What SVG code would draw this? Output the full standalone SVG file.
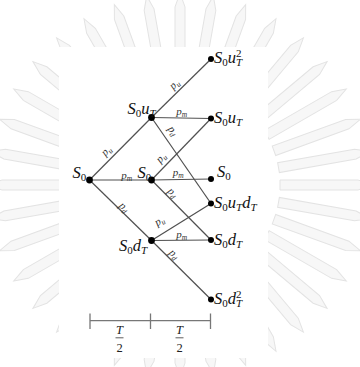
<svg xmlns="http://www.w3.org/2000/svg" xmlns:xlink="http://www.w3.org/1999/xlink" width="360" height="367" viewBox="0 0 360 367">
<defs>
<style>
.lbl{font-family:"Liberation Serif","DejaVu Serif",serif;font-size:16.5px;fill:#111}
.it{font-style:italic}
.sub{font-size:11px}
.p{font-family:"Liberation Serif","DejaVu Serif",serif;font-size:11px;font-style:italic;fill:#333}
.ps{font-size:7.5px}
.edge{stroke:#505050;stroke-width:1.2;fill:none}
.dot{fill:#000}
.bar{stroke:#777;stroke-width:1.3;fill:none}
.frac{font-family:"Liberation Serif","DejaVu Serif",serif;font-size:12.5px;fill:#222}
.ray{fill:#f7f7f7;stroke:#e3e3e3;stroke-width:1}
</style>
<polygon id="ray" points="-5,-100 5,-100 5,-178 0,-192 -5,-178"/>
</defs>
<rect width="360" height="367" fill="#fff"/>
<g id="watermark" class="ray" transform="translate(180,185)">
<use xlink:href="#ray" transform="rotate(0)"/><use xlink:href="#ray" transform="rotate(10)"/><use xlink:href="#ray" transform="rotate(20)"/><use xlink:href="#ray" transform="rotate(30)"/><use xlink:href="#ray" transform="rotate(40)"/><use xlink:href="#ray" transform="rotate(50)"/><use xlink:href="#ray" transform="rotate(60)"/><use xlink:href="#ray" transform="rotate(70)"/><use xlink:href="#ray" transform="rotate(80)"/><use xlink:href="#ray" transform="rotate(90)"/><use xlink:href="#ray" transform="rotate(100)"/><use xlink:href="#ray" transform="rotate(110)"/><use xlink:href="#ray" transform="rotate(120)"/><use xlink:href="#ray" transform="rotate(130)"/><use xlink:href="#ray" transform="rotate(140)"/><use xlink:href="#ray" transform="rotate(150)"/><use xlink:href="#ray" transform="rotate(160)"/><use xlink:href="#ray" transform="rotate(170)"/><use xlink:href="#ray" transform="rotate(180)"/><use xlink:href="#ray" transform="rotate(190)"/><use xlink:href="#ray" transform="rotate(200)"/><use xlink:href="#ray" transform="rotate(210)"/><use xlink:href="#ray" transform="rotate(220)"/><use xlink:href="#ray" transform="rotate(230)"/><use xlink:href="#ray" transform="rotate(240)"/><use xlink:href="#ray" transform="rotate(250)"/><use xlink:href="#ray" transform="rotate(260)"/><use xlink:href="#ray" transform="rotate(270)"/><use xlink:href="#ray" transform="rotate(280)"/><use xlink:href="#ray" transform="rotate(290)"/><use xlink:href="#ray" transform="rotate(300)"/><use xlink:href="#ray" transform="rotate(310)"/><use xlink:href="#ray" transform="rotate(320)"/><use xlink:href="#ray" transform="rotate(330)"/><use xlink:href="#ray" transform="rotate(340)"/><use xlink:href="#ray" transform="rotate(350)"/>
</g>
<rect x="59" y="47" width="209" height="311" fill="#fff"/>

<g id="connectors">
<line class="edge" x1="89.5" y1="180" x2="151.5" y2="117.5"/>
<line class="edge" x1="89.5" y1="180" x2="151.5" y2="180"/>
<line class="edge" x1="89.5" y1="180" x2="151.5" y2="240.5"/>
<line class="edge" x1="151.5" y1="117.5" x2="211" y2="59"/>
<line class="edge" x1="151.5" y1="117.5" x2="211" y2="118.5"/>
<line class="edge" x1="151.5" y1="117.5" x2="211" y2="203.5"/>
<line class="edge" x1="151.5" y1="180" x2="211" y2="118.5"/>
<line class="edge" x1="151.5" y1="180" x2="211" y2="179"/>
<line class="edge" x1="151.5" y1="180" x2="211" y2="240"/>
<line class="edge" x1="151.5" y1="240.5" x2="211" y2="203.5"/>
<line class="edge" x1="151.5" y1="240.5" x2="211" y2="240"/>
<line class="edge" x1="151.5" y1="240.5" x2="211" y2="299.5"/>
<text class="p" transform="translate(106.5,151) rotate(-45)" x="0" y="3" text-anchor="middle">p<tspan class="ps" dy="2">u</tspan></text>
<text class="p" transform="translate(126.7,175.5)" x="0" y="3" text-anchor="middle">p<tspan class="ps" dy="2">m</tspan></text>
<text class="p" transform="translate(124,207.5) rotate(45)" x="0" y="3" text-anchor="middle">p<tspan class="ps" dy="2">d</tspan></text>
<text class="p" transform="translate(174.5,84.5) rotate(-44.5)" x="0" y="3" text-anchor="middle">p<tspan class="ps" dy="2">u</tspan></text>
<text class="p" transform="translate(181.7,111.5)" x="0" y="3" text-anchor="middle">p<tspan class="ps" dy="2">m</tspan></text>
<text class="p" transform="translate(172.5,131) rotate(55.3)" x="0" y="3" text-anchor="middle">p<tspan class="ps" dy="2">d</tspan></text>
<text class="p" transform="translate(161.2,158) rotate(-46)" x="0" y="3" text-anchor="middle">p<tspan class="ps" dy="2">u</tspan></text>
<text class="p" transform="translate(178.3,172.5)" x="0" y="3" text-anchor="middle">p<tspan class="ps" dy="2">m</tspan></text>
<text class="p" transform="translate(172.3,193) rotate(45)" x="0" y="3" text-anchor="middle">p<tspan class="ps" dy="2">d</tspan></text>
<text class="p" transform="translate(159.5,221.2) rotate(-32)" x="0" y="3" text-anchor="middle">p<tspan class="ps" dy="2">u</tspan></text>
<text class="p" transform="translate(181.7,234.8)" x="0" y="3" text-anchor="middle">p<tspan class="ps" dy="2">m</tspan></text>
<text class="p" transform="translate(174,254.5) rotate(45)" x="0" y="3" text-anchor="middle">p<tspan class="ps" dy="2">d</tspan></text>
</g>

<g id="n-root"><circle class="dot" cx="89.5" cy="180" r="3.4"/><text class="lbl" x="72.5" y="177.5"><tspan class="it">S</tspan><tspan class="sub" dy="3">0</tspan></text></g>
<g id="n-1u"><circle class="dot" cx="151.5" cy="117.5" r="3.4"/><text class="lbl" x="127.5" y="113.5"><tspan class="it">S</tspan><tspan class="sub" dy="3">0</tspan><tspan class="it" dy="-3">u</tspan><tspan class="it sub" dy="3">T</tspan></text></g>
<g id="n-1m"><circle class="dot" cx="151.5" cy="180" r="3.4"/><text class="lbl" x="137.5" y="177.5"><tspan class="it">S</tspan><tspan class="sub" dy="3">0</tspan></text></g>
<g id="n-1d"><circle class="dot" cx="151.5" cy="240.5" r="3.4"/><text class="lbl" x="119" y="251"><tspan class="it">S</tspan><tspan class="sub" dy="3">0</tspan><tspan class="it" dy="-3">d</tspan><tspan class="it sub" dy="3">T</tspan></text></g>
<g id="n-2uu"><circle class="dot" cx="211" cy="59" r="3"/><text class="lbl" x="214" y="63"><tspan class="it">S</tspan><tspan class="sub" dy="3">0</tspan><tspan class="it" dy="-3">u</tspan><tspan class="sub" dy="-6">2</tspan><tspan class="it sub" dx="-5.5" dy="9">T</tspan></text></g>
<g id="n-2u"><circle class="dot" cx="211" cy="118.5" r="3"/><text class="lbl" x="214" y="123"><tspan class="it">S</tspan><tspan class="sub" dy="3">0</tspan><tspan class="it" dy="-3">u</tspan><tspan class="it sub" dy="3">T</tspan></text></g>
<g id="n-2m"><circle class="dot" cx="211" cy="179" r="3"/><text class="lbl" x="217" y="177"><tspan class="it">S</tspan><tspan class="sub" dy="3">0</tspan></text></g>
<g id="n-2ud"><circle class="dot" cx="211" cy="203.5" r="3"/><text class="lbl" x="214" y="207.5"><tspan class="it">S</tspan><tspan class="sub" dy="3">0</tspan><tspan class="it" dy="-3">u</tspan><tspan class="it sub" dy="3">T</tspan><tspan class="it" dy="-3">d</tspan><tspan class="it sub" dy="3">T</tspan></text></g>
<g id="n-2d"><circle class="dot" cx="211" cy="240" r="3"/><text class="lbl" x="214" y="245"><tspan class="it">S</tspan><tspan class="sub" dy="3">0</tspan><tspan class="it" dy="-3">d</tspan><tspan class="it sub" dy="3">T</tspan></text></g>
<g id="n-2dd"><circle class="dot" cx="211" cy="299.5" r="3"/><text class="lbl" x="214" y="304"><tspan class="it">S</tspan><tspan class="sub" dy="3">0</tspan><tspan class="it" dy="-3">d</tspan><tspan class="sub" dy="-6">2</tspan><tspan class="it sub" dx="-5.5" dy="9">T</tspan></text></g>

<g id="timescale">
<path class="bar" d="M90 320.7H210.5M90 313.5V329M150.5 313.5V329M210.5 313.5V329"/>
<text class="frac it" x="119.5" y="334" text-anchor="middle">T</text>
<line x1="115.5" y1="337.8" x2="123.5" y2="337.8" stroke="#333" stroke-width="0.8"/>
<text class="frac" x="119.5" y="352" text-anchor="middle">2</text>
<text class="frac it" x="179.5" y="334" text-anchor="middle">T</text>
<line x1="175.5" y1="337.8" x2="183.5" y2="337.8" stroke="#333" stroke-width="0.8"/>
<text class="frac" x="179.5" y="352" text-anchor="middle">2</text>
</g>
</svg>
